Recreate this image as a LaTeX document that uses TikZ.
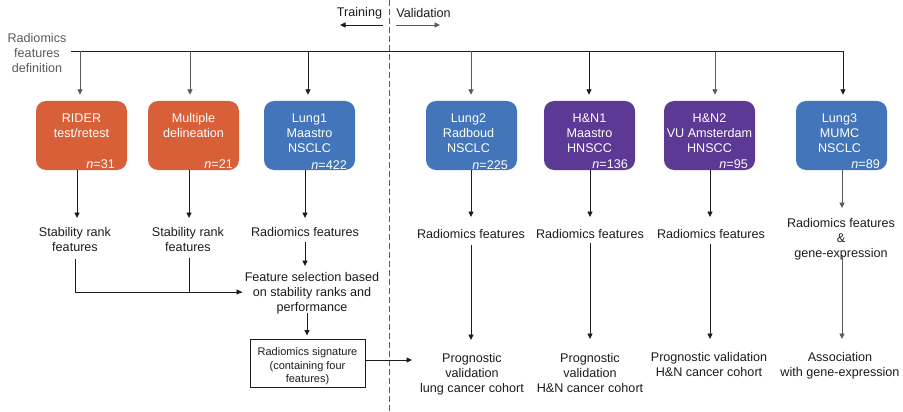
\documentclass[tikz,border=0pt]{standalone}
\usepackage{fontspec}
\setmainfont{Liberation Sans}
\usetikzlibrary{arrows.meta}
\definecolor{orng}{RGB}{216,96,56}
\definecolor{blu}{RGB}{67,117,186}
\definecolor{purp}{RGB}{91,57,149}
\definecolor{txt}{RGB}{28,28,28}
\definecolor{lgray}{RGB}{90,90,90}
\begin{document}
\begin{tikzpicture}[x=1pt,y=-1pt,
  base/.style={font=\fontsize{12.6}{15}\selectfont, text=txt, align=center, inner sep=0pt},
  small/.style={font=\fontsize{11}{13.5}\selectfont, text=txt, align=center, inner sep=0pt},
  cbox/.style={rounded corners=10pt, minimum width=91pt, minimum height=69pt, inner sep=0pt},
  btxt/.style={base, text=white},
  ntxt/.style={base, text=white, anchor=base east},
  arr/.style={draw=txt, line width=0.9pt, -{Triangle[width=5pt,length=5.5pt]}},
  garr/.style={arr, draw=lgray},
  ln/.style={draw=txt, line width=0.9pt},
]
\useasboundingbox (0,0) rectangle (903,412);

% header
\node[base] (train) at (359.5,13) {Training};
\node[base] (valid) at (423.5,13) {Validation};
\coordinate (tr0) at (383,25); \coordinate (tr1) at (340,25);
\coordinate (va0) at (396,25); \coordinate (va1) at (440,25);
\draw[arr] (tr0) -- (tr1);
\draw[garr] (va0) -- (va1);

% dashed divider
\coordinate (d0) at (389,0); \coordinate (d1) at (389,412);
\draw[draw=lgray, line width=0.9pt, dash pattern=on 6pt off 3pt] (d0) -- (d1);

% definition
\node[base, text=lgray] (def) at (37,53) {Radiomics\\features\\definition};
\coordinate (L0) at (71,51); \coordinate (L1) at (844,51);
\draw[ln] (L0) -- (L1);

% boxes
\node[cbox, fill=orng] (rider) at (81.5,135.5) {};
\node[btxt] at (81.5,125.5) (ridert) {RIDER\\test/retest};
\node[ntxt] (ridern) at (115,168) {\textit{n}=31};

\node[cbox, fill=orng] (mult) at (193.5,135.5) {};
\node[btxt] (multt) at (193.5,125.5) {Multiple\\delineation};
\node[ntxt] (multn) at (233,168) {\textit{n}=21};

\node[cbox, fill=blu] (lung1) at (309.5,135.5) {};
\node[btxt] (lung1t) at (309.5,133) {Lung1\\Maastro\\NSCLC};
\node[ntxt] (lung1n) at (347,169) {\textit{n}=422};

\node[cbox, fill=blu] (lung2) at (471.5,135.5) {};
\node[btxt] (lung2t) at (468.5,133) {Lung2\\Radboud\\NSCLC};
\node[ntxt] (lung2n) at (508,169) {\textit{n}=225};

\node[cbox, fill=purp] (hn1) at (589.5,135.5) {};
\node[btxt] (hn1t) at (589.5,133) {H\&N1\\Maastro\\HNSCC};
\node[ntxt] (hn1n) at (628,168) {\textit{n}=136};

\node[cbox, fill=purp] (hn2) at (709.5,135.5) {};
\node[btxt] (hn2t) at (709.5,133) {H\&N2\\VU Amsterdam\\HNSCC};
\node[ntxt] (hn2n) at (748,168) {\textit{n}=95};

\node[cbox, fill=blu] (lung3) at (841.5,135.5) {};
\node[btxt] (lung3t) at (839.5,133) {Lung3\\MUMC\\NSCLC};
\node[ntxt] (lung3n) at (880,168) {\textit{n}=89};

% arrows from definition line
\coordinate (t1) at (80,51); \coordinate (t2) at (190,51); \coordinate (t3) at (308,51);
\coordinate (t4) at (471,51); \coordinate (t5) at (589,51); \coordinate (t6) at (715,51);
\coordinate (t7) at (843,51);
\draw[garr, shorten >=6pt] (t1) -- (t1 |- rider.north);
\draw[garr, shorten >=6pt] (t2) -- (t2 |- mult.north);
\draw[arr, shorten >=6pt] (t3) -- (t3 |- lung1.north);
\draw[garr, shorten >=6pt] (t4) -- (t4 |- lung2.north);
\draw[arr, shorten >=6pt] (t5) -- (t5 |- hn1.north);
\draw[garr, shorten >=6pt] (t6) -- (t6 |- hn2.north);
\draw[arr, shorten >=6pt] (t7) -- (t7 |- lung3.north);

% second row texts
\node[base] (s1) at (75,239.5) {Stability rank\\features};
\node[base] (s2) at (188,239.5) {Stability rank\\features};
\node[base] (rf1) at (305,232) {Radiomics features};
\node[base] (fs) at (312,293.5) {Feature selection based\\on stability ranks and\\performance};
\node[draw=txt, line width=0.9pt, minimum width=115pt, minimum height=48pt, inner sep=0pt] (sig) at (307.5,363) {};
\node[small] (sigt) at (307.5,366.5) {Radiomics signature\\(containing four\\features)};

\node[base] (rf2) at (471,234) {Radiomics features};
\node[base] (rf3) at (590,234) {Radiomics features};
\node[base] (rf4) at (711,234) {Radiomics features};
\node[base] (rf5) at (841,239) {Radiomics features\\\&\\gene-expression};

\node[base] (pv2) at (472,374) {Prognostic\\validation\\lung cancer cohort};
\node[base] (pv3) at (590,372.5) {Prognostic\\validation\\H\&N cancer cohort};
\node[base] (pv4) at (709,364.5) {Prognostic validation\\H\&N cancer cohort};
\node[base] (as5) at (840,366) {Association\\with gene-expression};

% arrows from boxes
\coordinate (a1) at (77,218); \coordinate (a2) at (189,218); \coordinate (a3) at (305,218);
\coordinate (a4) at (471,217); \coordinate (a5) at (590,217); \coordinate (a6) at (710,217);
\coordinate (a7) at (842,208);
\draw[arr] (a1 |- rider.south) -- (a1);
\draw[arr] (a2 |- mult.south) -- (a2);
\draw[arr] (a3 |- lung1.south) -- (a3);
\draw[arr] (a4 |- lung2.south) -- (a4);
\draw[arr] (a5 |- hn1.south) -- (a5);
\draw[arr] (a6 |- hn2.south) -- (a6);
\draw[garr] (a7 |- lung3.south) -- (a7);

% training flow
\coordinate (c1) at (75,259); \coordinate (c2) at (189,258); \coordinate (j) at (242,292);
\coordinate (c3) at (305,242); \coordinate (c3e) at (305,266);
\coordinate (c4) at (307,313);
\draw[ln] (c1) |- (j);
\draw[ln] (c2) -- (c2 |- j);
\draw[arr] (c1 |- j) -- (j);
\draw[arr] (c3) -- (c3e);
\draw[arr, shorten >=3pt] (c4) -- (c4 |- sig.north);
\coordinate (sg) at (412,360);
\draw[arr] (sig.east |- sg) -- (sg);

% validation flows
\coordinate (v2) at (471,245); \coordinate (v3) at (590,243); \coordinate (v4) at (710,244); \coordinate (v5) at (842,255);
\coordinate (e2) at (471,340); \coordinate (e3) at (590,339); \coordinate (e4) at (710,339); \coordinate (e5) at (842,339);
\draw[arr] (v2) -- (e2);
\draw[arr] (v3) -- (e3);
\draw[arr] (v4) -- (e4);
\draw[garr] (v5) -- (e5);
\end{tikzpicture}
\end{document}
